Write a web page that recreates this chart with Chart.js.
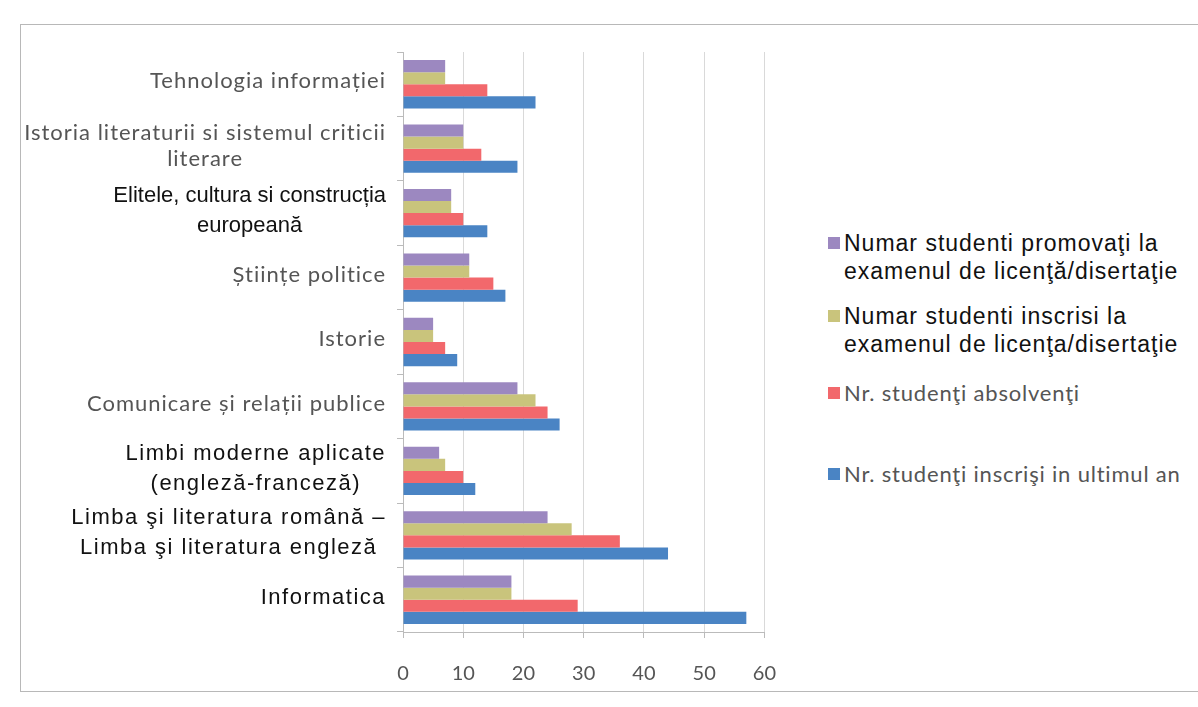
<!DOCTYPE html>
<html>
<head>
<meta charset="utf-8">
<script src="https://cdn.jsdelivr.net/npm/chart.js@4/dist/chart.umd.min.js"></script>
<style>
html,body{margin:0;background:#fff}
#wrap{position:relative;width:1198px;height:707px;overflow:hidden}
#frame{position:absolute;left:20px;top:24px;width:1200px;height:666px;border:1px solid #b8b8b8;border-right:none}
#box{position:absolute;left:0;top:0;width:800px;height:707px}
#legend{position:absolute;left:0;top:0;margin:0;padding:0;list-style:none}
#legend li{position:absolute;left:828px;white-space:nowrap}
#legend .sw{position:absolute;left:0;width:12px;height:12px}
#legend .tx{position:absolute;left:16px}
.strong{font:23px "Liberation Sans",Arial,sans-serif;color:#111;line-height:28px;letter-spacing:1px}
.light{font:22px Lato,sans-serif;color:#555;line-height:28px;letter-spacing:0.8px}
</style>
</head>
<body>
<div id="wrap">
  <div id="frame"></div>
  <div id="box"><canvas id="chart"></canvas></div>
  <ul id="legend"></ul>
</div>
<script>
const categories = [
  ['Tehnologia informației'],
  ['Istoria literaturii si sistemul criticii','literare'],
  ['Elitele, cultura si construcția','europeană'],
  ['Științe politice'],
  ['Istorie'],
  ['Comunicare și relații publice'],
  ['Limbi moderne aplicate','(engleză-franceză)'],
  ['Limba şi literatura română –','Limba şi literatura engleză'],
  ['Informatica']
]
const strongLabels = [2,6,7,8]
const seriesNames = [
  ['Numar studenti promovaţi la','examenul de licenţă/disertaţie'],
  ['Numar studenti inscrisi la','examenul de licenţa/disertaţie'],
  ['Nr. studenţi absolvenţi'],
  ['Nr. studenţi inscrişi in ultimul an']
]
const promovati = [7,10,8,11,5,19,6,24,18]
const inscrisiExamen = [7,10,8,11,5,22,7,28,18]
const absolventi = [14,13,10,15,7,24,10,36,29]
const inscrisiUltimulAn = [22,19,14,17,9,26,12,44,57]
const xTicks = [0,10,20,30,40,50,60]

const colors = ['#9c88c0','#c9c47c','#f2686c','#4a84c4']
const values = [promovati, inscrisiExamen, absolventi, inscrisiUltimulAn]

// y labels: multi-line labels are centred on their own widest line, block right aligned
const yLabelPlugin = {
  id:'yLabels',
  afterDraw(chart){
    const ctx = chart.ctx
    const y = chart.scales.y
    const right = 386
    ctx.save()
    ctx.textBaseline = 'middle'
    ctx.textAlign = 'center'
    categories.forEach((lines,i)=>{
      const strong = strongLabels.includes(i)
      ctx.font = strong ? '22px "Liberation Sans", Arial, sans-serif' : '22px Lato, sans-serif'
      ctx.letterSpacing = strong ? (i===2 ? '0px' : '1.5px') : '1px'
      ctx.fillStyle = strong ? '#111' : '#555'
      const lh = strong ? 30 : 26
      const w = Math.max(...lines.map(l=>ctx.measureText(l).width))
      const cx = right - w/2
      const cy = y.getPixelForTick(i) - (lines.length-1)*lh/2 - (strong?2:3)
      lines.forEach((l,k)=>ctx.fillText(l, cx, cy + k*lh))
    })
    ctx.restore()
  }
}

new Chart(document.getElementById('chart'),{
  type:'bar',
  data:{
    labels:categories.map(c=>c.join(' ')),
    datasets:values.map((v,i)=>({label:seriesNames[i].join(' '),data:v,backgroundColor:colors[i],borderWidth:0}))
  },
  options:{
    indexAxis:'y',
    responsive:true,
    maintainAspectRatio:false,
    animation:false,
    categoryPercentage:0.75,
    barPercentage:1,
    layout:{padding:{top:52,right:32,left:0,bottom:0}},
    plugins:{legend:{display:false},tooltip:{enabled:false}},
    scales:{
      x:{
        min:0,max:60,
        afterBuildTicks(s){ s.ticks = xTicks.map(v=>({value:v})) },
        afterFit(s){ s.height = 75 },
        grid:{color:'#d9d9d9',tickLength:6,tickColor:'#bbb'},
        border:{color:'#bbb'},
        ticks:{font:{family:'Lato',size:20},color:'#555',padding:24}
      },
      y:{
        afterFit(s){ s.width = 403 },
        grid:{drawOnChartArea:false,tickLength:6,color:'#bbb'},
        border:{color:'#bbb'},
        ticks:{display:false}
      }
    }
  },
  plugins:[yLabelPlugin]
})

const legendTops = [229,302,379,460]
const legendEl = document.getElementById('legend')
seriesNames.forEach((lines,i)=>{
  const li = document.createElement('li')
  li.className = i<2 ? 'strong' : 'light'
  li.style.top = legendTops[i]+'px'
  const sw = document.createElement('span')
  sw.className = 'sw'
  sw.style.background = colors[i]
  sw.style.top = '8px'
  const tx = document.createElement('span')
  tx.className = 'tx'
  tx.innerHTML = lines.join('<br>')
  li.appendChild(sw)
  li.appendChild(tx)
  legendEl.appendChild(li)
})
</script>
</body>
</html>
